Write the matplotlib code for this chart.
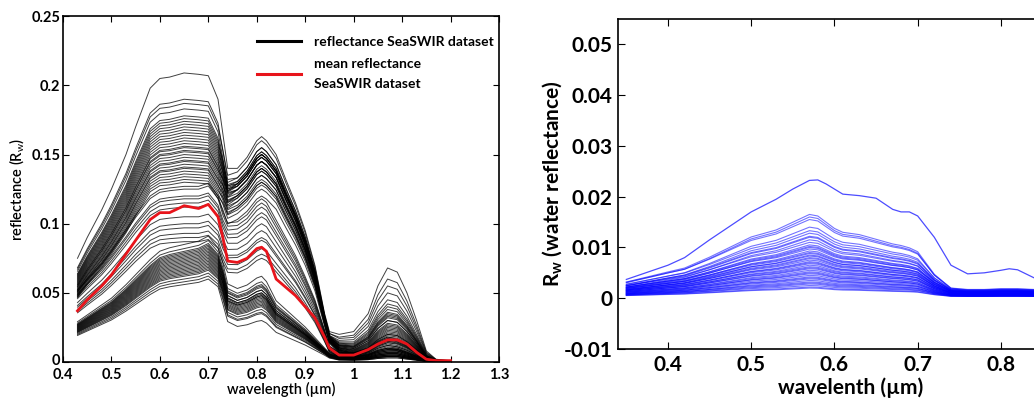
import matplotlib
matplotlib.use("Agg")
import matplotlib.pyplot as plt
import matplotlib.transforms as mtransforms
import numpy as np

plt.rcParams["font.family"] = ["Lato", "DejaVu Sans"]
plt.rcParams["mathtext.fontset"] = "custom"
plt.rcParams["mathtext.rm"] = "Lato"
plt.rcParams["mathtext.it"] = "Lato"
plt.rcParams["mathtext.bf"] = "Lato:bold"

# ---- left panel: SeaSWIR spectra ----
wl_left = [0.43, 0.45, 0.48, 0.50, 0.53, 0.55, 0.58, 0.60, 0.62, 0.65, 0.68, 0.70, 0.72,
           0.73, 0.74, 0.76, 0.78, 0.80, 0.81, 0.82, 0.84, 0.86, 0.88, 0.90, 0.92, 0.94,
           0.95, 0.97, 1.00, 1.03, 1.05, 1.07, 1.09, 1.11, 1.13, 1.15, 1.17, 1.20]

# spectral shapes of the three groups of curves
shape_high = [0.075, 0.09, 0.11, 0.125, 0.15, 0.17, 0.198, 0.205, 0.206, 0.209, 0.208, 0.207, 0.19,
              0.165, 0.14, 0.14, 0.148, 0.16, 0.163, 0.16, 0.15, 0.132, 0.115, 0.095, 0.07, 0.035,
              0.022, 0.02, 0.022, 0.035, 0.055, 0.068, 0.065, 0.05, 0.03, 0.008, 0.002, 0.001]
shape_mid = [0.045, 0.052, 0.062, 0.07, 0.083, 0.092, 0.104, 0.108, 0.109, 0.11, 0.11, 0.112, 0.104,
             0.09, 0.08, 0.079, 0.083, 0.09, 0.092, 0.09, 0.08, 0.07, 0.06, 0.048, 0.035, 0.018,
             0.01, 0.008, 0.009, 0.013, 0.02, 0.024, 0.022, 0.017, 0.01, 0.003, 0.001, 0.001]
shape_low = [0.024, 0.028, 0.034, 0.038, 0.046, 0.052, 0.061, 0.066, 0.068, 0.07, 0.072, 0.075, 0.068,
             0.058, 0.045, 0.042, 0.044, 0.048, 0.049, 0.046, 0.035, 0.03, 0.025, 0.02, 0.014, 0.008,
             0.005, 0.003, 0.003, 0.004, 0.006, 0.007, 0.007, 0.005, 0.003, 0.001, 0.0005, 0.0005]

# per curve: (value at 0.65 um, value at 0.81 um, value at 1.07 um)
curves_high = [(0.209, 0.163, 0.068), (0.19, 0.155, 0.06), (0.187, 0.16, 0.055), (0.183, 0.15, 0.05),
               (0.178, 0.152, 0.045), (0.176, 0.148, 0.042), (0.174, 0.155, 0.04), (0.172, 0.15, 0.038),
               (0.17, 0.145, 0.036), (0.168, 0.152, 0.035), (0.166, 0.148, 0.034), (0.164, 0.145, 0.033),
               (0.162, 0.15, 0.032), (0.16, 0.142, 0.03), (0.158, 0.148, 0.03), (0.156, 0.14, 0.028),
               (0.155, 0.145, 0.027), (0.153, 0.138, 0.026), (0.152, 0.15, 0.025), (0.15, 0.14, 0.024),
               (0.148, 0.135, 0.023), (0.146, 0.145, 0.022), (0.145, 0.132, 0.021), (0.143, 0.14, 0.02),
               (0.141, 0.13, 0.02), (0.14, 0.138, 0.019), (0.138, 0.128, 0.018), (0.136, 0.135, 0.017),
               (0.134, 0.125, 0.016), (0.132, 0.13, 0.015), (0.13, 0.12, 0.014)]
curves_mid = [(0.127, 0.118, 0.018), (0.125, 0.115, 0.017), (0.12, 0.112, 0.016), (0.118, 0.108, 0.015),
              (0.115, 0.105, 0.014), (0.112, 0.1, 0.013), (0.105, 0.095, 0.012), (0.1, 0.09, 0.012),
              (0.097, 0.088, 0.011), (0.093, 0.082, 0.01), (0.09, 0.078, 0.01), (0.087, 0.075, 0.009)]
curves_low = [(0.085, 0.062, 0.01), (0.082, 0.058, 0.009), (0.08, 0.056, 0.009), (0.079, 0.054, 0.008),
              (0.078, 0.052, 0.008), (0.077, 0.055, 0.008), (0.076, 0.05, 0.007), (0.075, 0.052, 0.007),
              (0.074, 0.049, 0.007), (0.073, 0.05, 0.006), (0.072, 0.048, 0.006), (0.071, 0.047, 0.006),
              (0.07, 0.046, 0.006), (0.069, 0.048, 0.005), (0.068, 0.045, 0.005), (0.067, 0.044, 0.005),
              (0.066, 0.043, 0.005), (0.065, 0.042, 0.004), (0.064, 0.04, 0.004), (0.063, 0.041, 0.004),
              (0.062, 0.038, 0.004), (0.06, 0.036, 0.004), (0.058, 0.035, 0.003), (0.056, 0.03, 0.003)]

mean_refl = [0.037, 0.045, 0.055, 0.063, 0.078, 0.088, 0.103, 0.108, 0.108, 0.113, 0.111, 0.114, 0.105,
             0.09, 0.073, 0.072, 0.075, 0.082, 0.083, 0.08, 0.06, 0.054, 0.048, 0.04, 0.032, 0.018,
             0.01, 0.005, 0.005, 0.009, 0.013, 0.016, 0.016, 0.013, 0.007, 0.002, 0.001, 0.001]

# ---- right panel: water reflectance ----
wl_right = [0.35, 0.40, 0.42, 0.45, 0.50, 0.53, 0.55, 0.57, 0.58, 0.59, 0.60, 0.61, 0.63, 0.65, 0.67,
            0.68, 0.69, 0.70, 0.72, 0.74, 0.76, 0.78, 0.80, 0.81, 0.82, 0.84, 0.86, 0.90]
top_curve = [0.0037, 0.0065, 0.008, 0.0115, 0.017, 0.0195, 0.0215, 0.0232, 0.0233, 0.0225, 0.0215,
             0.0205, 0.0202, 0.0197, 0.0175, 0.017, 0.017, 0.0162, 0.012, 0.0065, 0.0048, 0.005,
             0.0055, 0.0058, 0.0056, 0.004, 0.003, 0.002]
# shape relative to the 0.57 um peak
shape_right = [0.13, 0.26, 0.31, 0.45, 0.71, 0.8, 0.9, 1.0, 0.98, 0.9, 0.82, 0.77, 0.74, 0.68, 0.62,
               0.6, 0.57, 0.52, 0.23, 0.05, 0.03, 0.03, 0.04, 0.04, 0.04, 0.03, 0.02, 0.01]
# per curve: (baseline, value at 0.57 um)
curves_right = [(0.0012, 0.0165), (0.0011, 0.016), (0.0013, 0.0155), (0.001, 0.014), (0.0012, 0.0133),
                (0.0009, 0.0128), (0.0011, 0.0122), (0.001, 0.012), (0.0008, 0.0115), (0.0012, 0.011),
                (0.0009, 0.0105), (0.001, 0.0102), (0.0008, 0.01), (0.0011, 0.0097), (0.0007, 0.0093),
                (0.001, 0.009), (0.0009, 0.0088), (0.0006, 0.0085), (0.001, 0.0083), (0.0008, 0.008),
                (0.0007, 0.0078), (0.0009, 0.0075), (0.0006, 0.0072), (0.0008, 0.007), (0.0007, 0.0068),
                (0.0005, 0.0065), (0.0008, 0.0062), (0.0006, 0.006), (0.0007, 0.0058), (0.0005, 0.0055),
                (0.0006, 0.0052), (0.0004, 0.005), (0.0006, 0.0048), (0.0005, 0.0045), (0.0004, 0.0042),
                (0.0005, 0.004), (0.0004, 0.0038), (0.0003, 0.0035), (0.0005, 0.0032), (0.0004, 0.003),
                (0.0003, 0.0028), (0.0004, 0.0025), (0.0003, 0.0022), (0.0003, 0.002)]


def build(shape, vis, nir, swir):
    x = np.array(wl_left)
    t = np.array(shape)
    v = t / np.interp(0.65, x, t) * vis
    n = t / np.interp(0.81, x, t) * nir
    s = t / np.interp(1.07, x, t) * swir
    w1 = np.interp(x, [0.72, 0.745], [0, 1])
    w2 = np.interp(x, [0.94, 0.98], [0, 1])
    return v * (1 - w1) + n * w1 * (1 - w2) + s * w2


fig = plt.figure(figsize=(10.34, 4.03), dpi=100)

ax1 = fig.add_axes([0.0609, 0.1017, 0.4217, 0.858])
for shape, group in [(shape_high, curves_high), (shape_mid, curves_mid), (shape_low, curves_low)]:
    for vis, nir, swir in group:
        ax1.plot(wl_left, build(shape, vis, nir, swir), color="black", lw=0.7, alpha=0.75)
ax1.plot(wl_left, mean_refl, color="#e8141b", lw=2.0)

ax1.plot([], [], color="black", lw=2.2, label="reflectance SeaSWIR dataset")
ax1.plot([], [], color="#e8141b", lw=2.2, label="mean reflectance\nSeaSWIR dataset")
handles, labels = ax1.get_legend_handles_labels()
leg = ax1.legend(handles[-2:], labels[-2:], loc="upper right", bbox_to_anchor=(1.0, 0.958),
                 frameon=False, handlelength=3.2, handletextpad=0.9, borderaxespad=0,
                 labelspacing=0.7, prop={"weight": "bold", "size": 10})
for t in leg.get_texts():
    t.set_linespacing(1.75)

ax1.set_xlim(0.4, 1.3)
ax1.set_ylim(0, 0.25)
ax1.set_xticks(np.arange(0.4, 1.31, 0.1))
ax1.set_xticklabels(["0.4", "0.5", "0.6", "0.7", "0.8", "0.9", "1", "1.1", "1.2", "1.3"])
ax1.set_yticks([0, 0.05, 0.1, 0.15, 0.2, 0.25])
ax1.set_yticklabels(["0", "0.05", "0.1", "0.15", "0.2", "0.25"])
ax1.tick_params(direction="in", top=True, right=True, length=4, pad=2, labelsize=10.5)
ax1.tick_params(axis="x", pad=4)
for lab in ax1.get_xticklabels() + ax1.get_yticklabels():
    lab.set_fontweight("bold")
# the "0" label sits a little above the corner, clear of "0.4"
zero = ax1.get_yticklabels()[0]
zero.set_transform(zero.get_transform() + mtransforms.ScaledTranslation(0, 2 / 72, fig.dpi_scale_trans))
ax1.set_xlabel("wavelength (µm)", fontsize=10.5, labelpad=0, fontweight="semibold")
ax1.set_ylabel("reflectance (R$_w$)", fontsize=10.5, labelpad=4, fontweight="semibold")
for sp in ax1.spines.values():
    sp.set_linewidth(1.2)

ax2 = fig.add_axes([0.5977, 0.134, 0.4508, 0.819])
xr = np.array(shape_right)
for base, peak in curves_right:
    ax2.plot(wl_right, base + (peak - base) * xr, color="#0000ff", lw=0.8, alpha=0.55)
ax2.plot(wl_right, top_curve, color="#0000ff", lw=0.9, alpha=0.7)

ax2.set_xlim(0.34, 0.9)
ax2.set_ylim(-0.01, 0.055)
ax2.set_xticks([0.4, 0.5, 0.6, 0.7, 0.8])
ax2.set_yticks([-0.01, 0, 0.01, 0.02, 0.03, 0.04, 0.05])
ax2.set_yticklabels(["-0.01", "0", "0.01", "0.02", "0.03", "0.04", "0.05"])
ax2.tick_params(direction="in", top=True, length=5, pad=4, labelsize=15)
for lab in ax2.get_xticklabels() + ax2.get_yticklabels():
    lab.set_fontweight("bold")
ax2.set_xlabel("wavelenth (µm)", fontsize=15, fontweight="bold", labelpad=2)
ax2.set_ylabel(r"R$_{\mathbf{w}}$ (water reflectance)", fontsize=15, fontweight="bold", labelpad=0)
for sp in ax2.spines.values():
    sp.set_linewidth(1.2)

fig.savefig("out.png", dpi=100)
